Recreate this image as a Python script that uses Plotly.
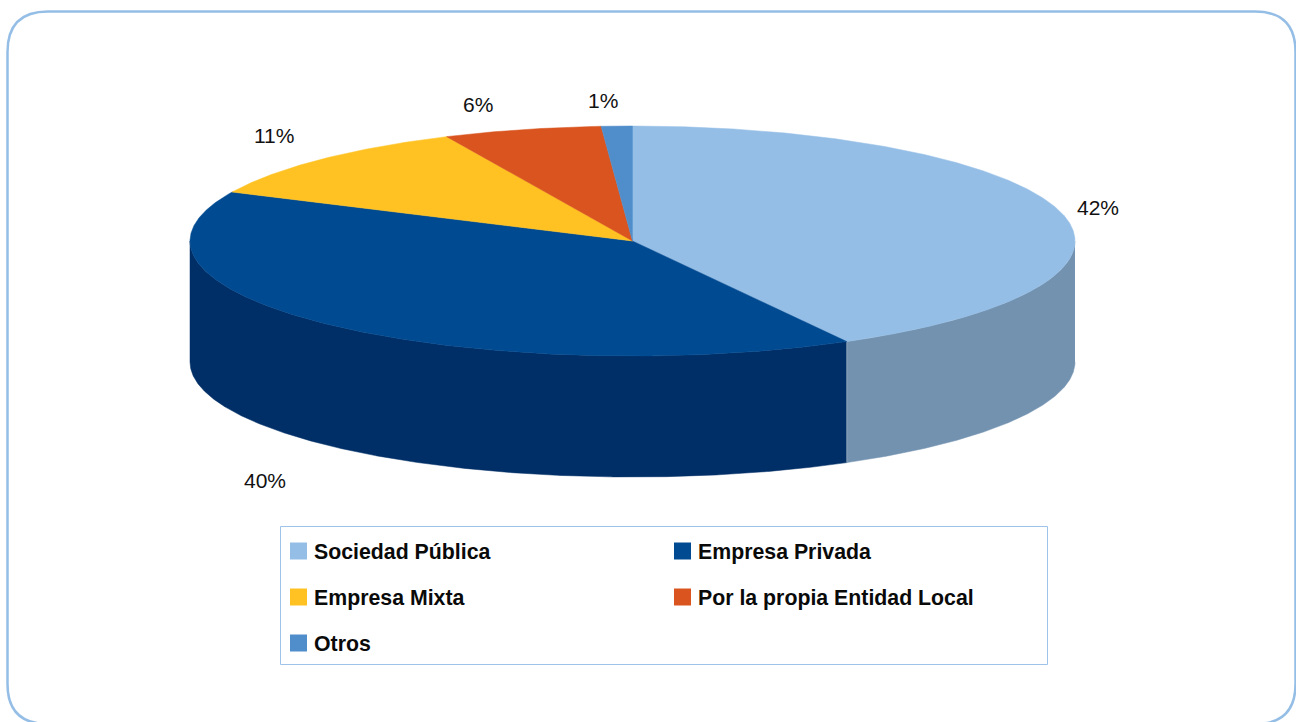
import numpy as np
import plotly.graph_objects as go

categories = ["Sociedad Pública", "Empresa Privada", "Empresa Mixta", "Por la propia Entidad Local", "Otros"]
values = [41.95, 40.05, 11.1, 5.77, 1.13]
top_colors = ["#95BEE6", "#004A91", "#FFC222", "#D9541E", "#4F8DCB"]
side_colors = ["#7292B0", "#002E66", "#B88C18", "#9C3C15", "#39668F"]

CX, CY, RX, RY, DEPTH = 632.5, 241, 442.5, 115, 121
LABEL_OFFSETS = [(465.5, -34), (-368, 239), (-358.5, -106), (-154.5, -137), (-30, -141)]
FONT = "Liberation Sans, Arial, sans-serif"

def rim(a0, a1):
    t = np.radians(np.arange(a0, a1, 0.25).tolist() + [a1])
    return CX + RX * np.sin(t), CY - RY * np.cos(t)

fig = go.Figure()
total = sum(values)
edges = np.cumsum([0] + values) / total * 360

# side walls, only the front half of the disc can be seen
for i in range(len(values)):
    a0, a1 = max(edges[i], 90), min(edges[i + 1], 270)
    if a1 <= a0:
        continue
    x, y = rim(a0, a1)
    px = np.concatenate([x, x[::-1]])
    py = np.concatenate([y, y[::-1] + DEPTH])
    fig.add_trace(go.Scatter(x=px, y=py, mode="lines", fill="toself", fillcolor=side_colors[i],
                             line=dict(color=side_colors[i], width=0.5), hoverinfo="skip", showlegend=False))

# thin light seam between the side walls
x, y = rim(edges[1], edges[1])
fig.add_trace(go.Scatter(x=[x[0], x[0]], y=[y[0], y[0] + DEPTH], mode="lines",
                         line=dict(color="#8FA6BE", width=1), hoverinfo="skip", showlegend=False))

# top faces
for i in range(len(values)):
    x, y = rim(edges[i], edges[i + 1])
    px = np.concatenate([[CX], x, [CX]])
    py = np.concatenate([[CY], y, [CY]])
    fig.add_trace(go.Scatter(x=px, y=py, mode="lines", fill="toself", fillcolor=top_colors[i],
                             line=dict(color=top_colors[i], width=0.5), name=categories[i],
                             hoverinfo="name", showlegend=False))

# percentage labels
for i, v in enumerate(values):
    dx, dy = LABEL_OFFSETS[i]
    fig.add_annotation(x=CX + dx, y=CY + dy, text=f"{round(v)}%", showarrow=False,
                       font=dict(family=FONT, size=21, color="#111111"))

# legend block, drawn as markers and text inside a frame
COL_X = [298.5, 682.5]
ROW_Y = [551, 597, 643]
for i, name in enumerate(categories):
    lx = COL_X[i % 2]
    ly = ROW_Y[i // 2]
    fig.add_trace(go.Scatter(x=[lx], y=[ly], mode="markers",
                             marker=dict(symbol="square", size=17, color=top_colors[i], line=dict(width=0)),
                             hoverinfo="skip", showlegend=False))
    fig.add_annotation(x=lx + 13.5, y=ly + 1, text=f"<b>{name}</b>", showarrow=False, xanchor="left",
                       font=dict(family=FONT, size=21.3, color="#0A0A0A"))

shapes = [
    dict(type="path", xref="x", yref="y", layer="below",
         path="M 7.5 52 Q 7.5 11.5 48 11.5 L 1255 11.5 Q 1295.5 11.5 1295.5 52 L 1295.5 684 "
              "Q 1295.5 724 1255 724 L 48 724 Q 7.5 724 7.5 684 Z",
         line=dict(color="#95BEE6", width=2.5), fillcolor="#FFFFFF"),
    dict(type="rect", xref="x", yref="y", x0=280.5, x1=1047.5, y0=526.5, y1=664.5,
         line=dict(color="#9DC3E8", width=1), fillcolor="rgba(0,0,0,0)", layer="below"),
]

fig.update_layout(
    width=1296, height=722, margin=dict(l=0, r=0, t=0, b=0),
    paper_bgcolor="#FFFFFF", plot_bgcolor="#FFFFFF", showlegend=False,
    xaxis=dict(range=[0, 1296], visible=False, fixedrange=True),
    yaxis=dict(range=[722, 0], visible=False, fixedrange=True),
    shapes=shapes,
)
fig.write_html("out.html", config={"displayModeBar": False},
               post_script="document.body.style.margin='0';document.body.style.overflow='hidden';")
